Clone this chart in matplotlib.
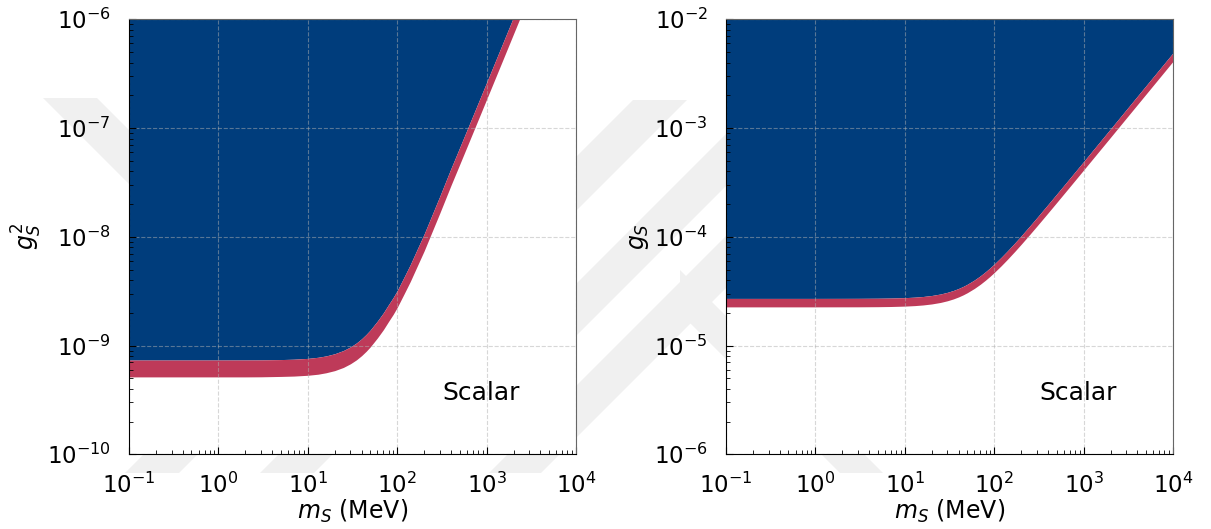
import matplotlib
matplotlib.use('Agg')
import matplotlib.pyplot as plt
from matplotlib.patches import Polygon


# mass grid (MeV) shared by both panels
m_s = [0.1, 1, 2, 3, 5, 7, 10, 13, 16, 20, 25, 30, 35, 40, 45, 50, 60, 70,
       80, 90, 100, 120, 140, 170, 200, 250, 300, 400, 500, 700, 1000, 1500,
       2000, 3000, 10000]

# g_S^2 bound: band edges (upper edge = start of excluded region)
gs2_upper = [7.36e-10, 7.36e-10, 7.37e-10, 7.38e-10, 7.43e-10, 7.49e-10,
             7.62e-10, 7.80e-10, 8.03e-10, 8.41e-10, 9.00e-10, 9.72e-10,
             1.057e-9, 1.155e-9, 1.267e-9, 1.391e-9, 1.679e-9, 2.0e-9,
             2.38e-9, 2.76e-9, 3.2e-9, 4.3e-9, 5.55e-9, 7.9e-9, 1.06e-8,
             1.65e-8, 2.37e-8, 4.266e-8, 6.624e-8, 1.291e-7, 2.628e-7,
             5.903e-7, 1.049e-6, 2.359e-6, 2.621e-5]
gs2_lower = [5.15e-10, 5.15e-10, 5.15e-10, 5.16e-10, 5.2e-10, 5.24e-10,
             5.33e-10, 5.45e-10, 5.62e-10, 5.88e-10, 6.29e-10, 6.8e-10,
             7.39e-10, 8.08e-10, 8.86e-10, 9.73e-10, 1.174e-9, 1.399e-9,
             1.664e-9, 1.93e-9, 2.24e-9, 3.01e-9, 3.88e-9, 5.52e-9, 7.41e-9,
             1.154e-8, 1.657e-8, 2.98e-8, 4.63e-8, 9.03e-8, 1.838e-7,
             4.128e-7, 7.34e-7, 1.65e-6, 1.833e-5]

# g_S bound: band edges
gs_upper = [2.713e-5, 2.713e-5, 2.715e-5, 2.717e-5, 2.724e-5, 2.735e-5,
            2.757e-5, 2.787e-5, 2.825e-5, 2.886e-5, 2.978e-5, 3.088e-5,
            3.212e-5, 3.351e-5, 3.5e-5, 3.661e-5, 4.008e-5, 4.381e-5,
            4.777e-5, 5.188e-5, 5.614e-5, 6.492e-5, 7.397e-5, 8.783e-5,
            1.0196e-4, 1.258e-4, 1.499e-4, 1.985e-4, 2.473e-4, 3.451e-4,
            4.922e-4, 7.378e-4, 9.83e-4, 1.475e-3, 4.915e-3]
gs_lower = [2.268e-5, 2.268e-5, 2.27e-5, 2.271e-5, 2.277e-5, 2.286e-5,
            2.305e-5, 2.33e-5, 2.362e-5, 2.413e-5, 2.49e-5, 2.582e-5,
            2.685e-5, 2.801e-5, 2.926e-5, 3.061e-5, 3.351e-5, 3.663e-5,
            3.994e-5, 4.337e-5, 4.693e-5, 5.427e-5, 6.184e-5, 7.343e-5,
            8.524e-5, 1.052e-4, 1.253e-4, 1.659e-4, 2.067e-4, 2.885e-4,
            4.115e-4, 6.168e-4, 8.218e-4, 1.233e-3, 4.109e-3]

BLUE = '#003d7c'
RED = '#be3a59'
W, H = 1211, 529

panels = [
    (gs2_lower, gs2_upper, (1e-10, 1e-6), r'$g_S^2$'),
    (gs_lower, gs_upper, (1e-6, 1e-2), r'$g_S$'),
]

plt.rcParams['font.family'] = 'DejaVu Sans'
plt.rcParams['mathtext.fontset'] = 'dejavusans'

fig = plt.figure(figsize=(W / 100, H / 100), dpi=100)


def px_poly(points, **kw):
    '''Polygon given in pixel coordinates (origin top-left)'''
    verts = [(x / W, 1 - y / H) for x, y in points]
    return Polygon(verts, closed=True, transform=fig.transFigure, **kw)


# faint background emblem, drawn behind the axes
wm = dict(facecolor='#f0f0f0', edgecolor='none', zorder=-5)
bands = [
    [(43, 98), (97, 98), (297, 298), (243, 298)],
    [(633, 100), (687, 100), (314, 473), (260, 473)],
    [(398, 200), (452, 200), (179, 473), (125, 473)],
    [(760, 100), (812, 100), (512, 400), (460, 400)],
    [(862, 100), (914, 100), (541, 473), (489, 473)],
    [(680, 270), (680, 313), (840, 473), (883, 473)],
]
for pts in bands:
    fig.patches.append(px_poly(pts, **wm))

lefts = [129 / W, 726 / W]
for left, (lower, upper, ylim, ylabel) in zip(lefts, panels):
    ax = fig.add_axes([left, (H - 454.3) / H, 447 / W, 435 / H])
    ax.set_xscale('log')
    ax.set_yscale('log')

    ax.fill_between(m_s, upper, ylim[1] * 10, color=BLUE, lw=0, zorder=1)
    ax.fill_between(m_s, lower, upper, color=RED, lw=0, zorder=1.2)

    ax.set_xlim(1e-1, 1e4)
    ax.set_ylim(*ylim)
    ax.grid(True, which='major', ls='--', color='#b0b0b0', alpha=0.5, lw=0.8)

    ax.tick_params(which='both', direction='in', labelsize=16.5,
                   top=False, right=False, pad=13)
    ax.tick_params(which='major', length=5, width=0.8)
    ax.tick_params(which='minor', length=3, width=0.6)
    for side in ('top', 'right'):
        ax.spines[side].set_color('#666666')

    ax.set_xlabel(r'$m_S$ (MeV)', fontsize=17, labelpad=0)
    ax.set_ylabel(ylabel, fontsize=17, labelpad=2)
    ax.text(0.787, 0.14, 'Scalar', transform=ax.transAxes,
            ha='center', va='center', fontsize=18)

fig.savefig('out.png', dpi=100)
